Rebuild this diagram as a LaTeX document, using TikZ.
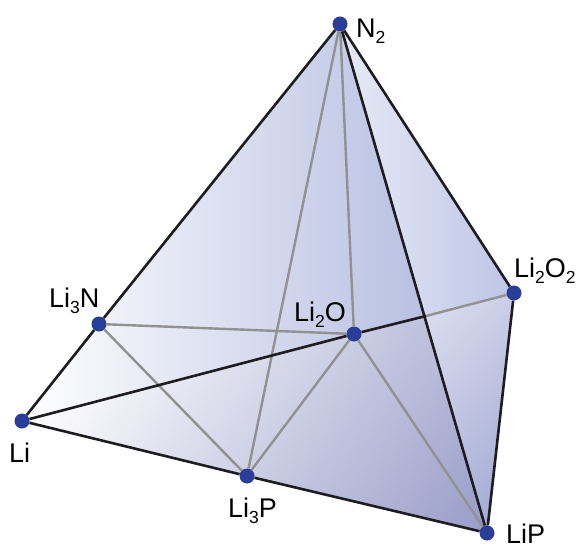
\documentclass[tikz,border=0pt]{standalone}
\usepackage{fontspec}
\setmainfont{Liberation Sans}
\usetikzlibrary{backgrounds}
\newcommand\lsub[1]{\raisebox{-6pt}{\fontsize{17.5}{17.5}\selectfont #1}}
\definecolor{dotblue}{RGB}{41,62,152}
\definecolor{edgeblack}{RGB}{30,28,32}
\definecolor{edgegray}{RGB}{145,145,145}
\definecolor{upA}{RGB}{184,192,226}
\definecolor{upBa}{RGB}{230,234,246}
\definecolor{upBb}{RGB}{190,197,230}
\definecolor{lowC}{RGB}{152,156,200}
\definecolor{lowDa}{RGB}{218,220,237}
\definecolor{lowDb}{RGB}{162,170,213}
\tikzset{
  x=1pt,y=-1pt,
  vertex/.style={circle,fill=dotblue,draw=none,minimum size=15pt,inner sep=0pt},
  hull/.style={draw=edgeblack,line width=2.6pt},
  tie/.style={draw=edgegray,line width=2.4pt},
  lab/.style={inner sep=0pt,font=\fontsize{27}{27}\selectfont,text=black}
}
\begin{document}
\begin{tikzpicture}
\useasboundingbox (0,0) rectangle (578,548);
\node[vertex] (N) at (340,24) {};
\node[vertex] (Li) at (22,421) {};
\node[vertex] (LiN) at (99,324) {};
\node[vertex] (LiPt) at (247,476) {};
\node[vertex] (LiO) at (354,334) {};
\node[vertex] (LiOO) at (514,293) {};
\node[vertex] (LiP) at (487,533) {};
\coordinate (X) at (426,316);
\begin{scope}[on background layer]
  % upper left face
  \begin{scope}
    \clip (N.center) -- (Li.center) -- (LiO.center) -- (X) -- cycle;
    \shade[left color=white,right color=upA] (22,0) rectangle (426,548);
  \end{scope}
  % upper right face
  \begin{scope}
    \clip (N.center) -- (X) -- (LiOO.center) -- cycle;
    \shade[left color=upBa,right color=upBb] (340,0) rectangle (514,548);
  \end{scope}
  % lower left face
  \begin{scope}
    \clip (Li.center) -- (X) -- (LiP.center) -- cycle;
    \begin{scope}[transform canvas={shift={(Li.center)},rotate=-35}]
      \shade[left color=white,right color=lowC] (0,-600) rectangle (445,600);
    \end{scope}
  \end{scope}
  % lower right face
  \begin{scope}
    \clip (X) -- (LiOO.center) -- (LiP.center) -- cycle;
    \begin{scope}[transform canvas={shift={(X)},rotate=-40}]
      \shade[left color=lowDa,right color=lowDb] (0,-400) rectangle (190,400);
    \end{scope}
  \end{scope}
\end{scope}
\draw[tie] (LiN) -- (LiO);
\draw[tie] (LiN) -- (LiPt);
\draw[tie] (LiPt) -- (LiO);
\draw[tie] (LiO) -- (LiP);
\draw[tie] (LiPt) -- (N);
\draw[tie] (LiO) -- (N);
\draw[tie] (X) -- (LiOO);
\draw[hull] (Li) -- (LiO);
\draw[hull] (LiO) -- (X);
\draw[hull] (N) -- (LiN);
\draw[hull] (LiN) -- (Li);
\draw[hull] (Li) -- (LiPt);
\draw[hull] (LiPt) -- (LiP);
\draw[hull] (LiP) -- (LiOO);
\draw[hull] (LiOO) -- (N);
\draw[hull] (N) -- (LiP);
\node[lab,anchor=base west] (tN) at (356,38) {N\lsub{2}};
\node[lab,anchor=base west] (tLi) at (9,462) {Li};
\node[lab,anchor=base west] (tLiN) at (49,307) {Li\lsub{3}N};
\node[lab,anchor=base west] (tLiPt) at (228,517) {Li\lsub{3}P};
\node[lab,anchor=base west] (tLiO) at (294,321) {Li\lsub{2}O};
\node[lab,anchor=base west] (tLiOO) at (514,277) {Li\lsub{2}O\lsub{2}};
\node[lab,anchor=base west] (tLiP) at (506,543) {LiP};
\end{tikzpicture}
\end{document}
